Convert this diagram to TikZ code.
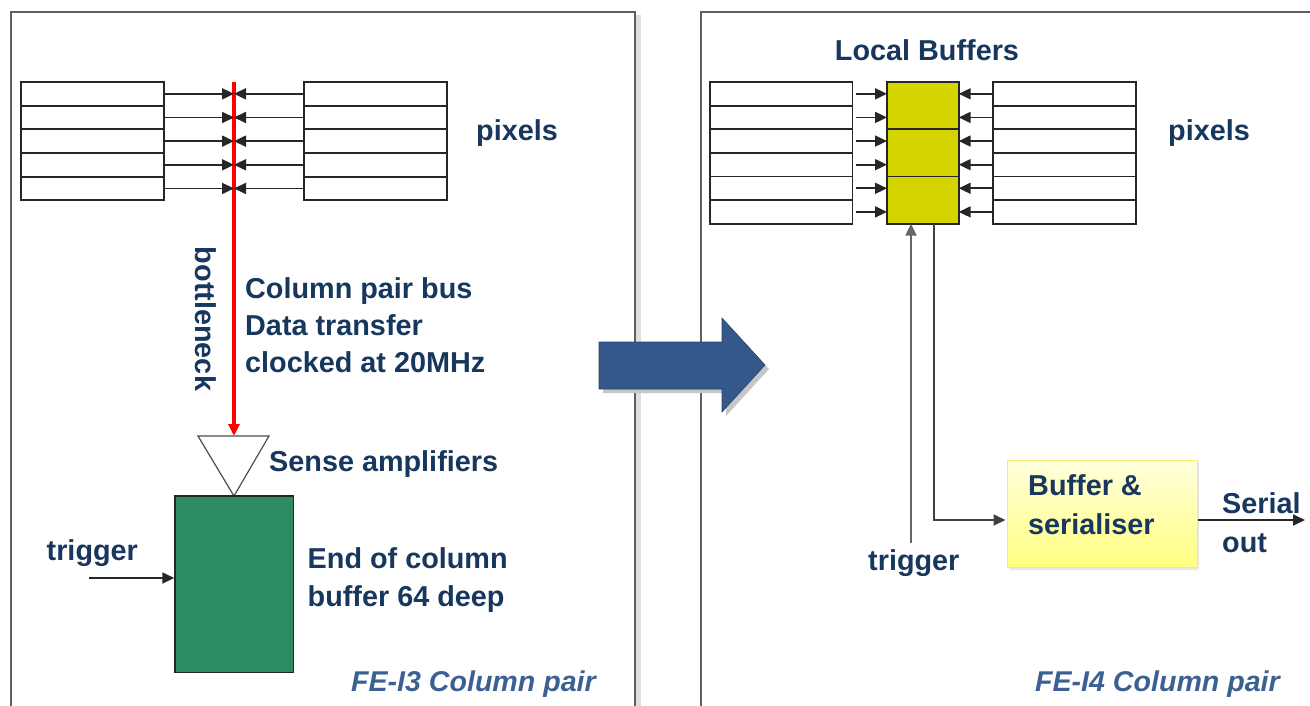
\documentclass[tikz,border=0pt]{standalone}
\usepackage{fontspec}
\setmainfont{Liberation Sans}
\usetikzlibrary{arrows.meta,shadows,calc}
\definecolor{navy}{RGB}{23,55,94}
\definecolor{labblue}{RGB}{60,96,146}
\definecolor{bigarrow}{RGB}{52,88,138}
\definecolor{eocgreen}{RGB}{46,140,98}
\definecolor{lbuf}{RGB}{212,212,0}
\definecolor{panelgray}{RGB}{95,95,95}
\begin{document}
\begin{tikzpicture}[x=1pt,y=-1pt,
  pixrow/.style={draw=black!85, line width=1.8pt, fill=white, minimum width=143pt, minimum height=23.62pt, inner sep=0pt, outer sep=0pt},
  lbufcell/.style={draw=black!85, line width=1.8pt, fill=lbuf, minimum width=71.7pt, minimum height=47.2pt, inner sep=0pt, outer sep=0pt},
  lbl/.style={text=navy, font=\bfseries\fontsize{28.8}{37}\selectfont, inner sep=0pt, anchor=base west},
  ital/.style={text=labblue, font=\bfseries\itshape\fontsize{28.6}{30}\selectfont, inner sep=0pt, anchor=base east},
  conn/.style={draw=black!85, line width=1.8pt, -{Triangle[length=12pt,width=11pt]}},
  panel/.style={draw=panelgray, line width=2pt},
]
\useasboundingbox (0,0) rectangle (1310,705);

% panels
\fill[gray!25] (636,15) rectangle (641,720);
\draw[panel] (11,720) -- (11,12) -- (635,12) -- (635,720);
\draw[panel] (701,720) -- (701,12) -- (1320,12);

% ---------------- FE-I3 ----------------
\coordinate (bustop) at (234,82);
\coordinate (amptop) at (234,436);
\foreach \i in {1,...,5} {
  \node[pixrow] (L\i) at (92.5,{82+23.66*(\i-0.5)}) {};
  \node[pixrow] (R\i) at (375.5,{82+23.66*(\i-0.5)}) {};
  \coordinate (B\i) at (234,{82+23.66*(\i-0.5)});
}
\draw[red, line width=3.2pt, -{Triangle[length=12pt,width=11pt]}] (bustop) -- (amptop);
\foreach \i in {1,...,5} {
  \draw[conn] (L\i.east) -- (B\i);
  \draw[conn] (R\i.west) -- (B\i);
}
\draw[draw=black!70, line width=1.2pt, fill=white] (198,436) -- (269,436) -- (234,496) -- cycle;
\node[draw=black!85, line width=1.5pt, fill=eocgreen, minimum width=118.5pt, minimum height=176.5pt, inner sep=0pt] (eoc) at (234.25,584.25) {};
\coordinate (trigL) at (89,578);
\draw[conn] (trigL) -- (trigL -| eoc.west);

\node[lbl] (pixA) at (476,140) {pixels};
\node[lbl, rotate=-90, anchor=center] (bneck) at (206,319) {bottleneck};
\node[lbl] (bus1) at (245,298) {Column pair bus};
\node[lbl] (bus2) at (245,335) {Data transfer};
\node[lbl] (bus3) at (245,372) {clocked at 20MHz};
\node[lbl] (sense) at (269,471.5) {Sense amplifiers};
\node[lbl] (eoc1) at (307.5,568) {End of column};
\node[lbl] (eoc2) at (307.5,606.5) {buffer 64 deep};
\node[lbl] (trigA) at (46.5,560.5) {trigger};
\node[ital] (fe3) at (596,691) {FE-I3 Column pair};

% big arrow
\fill[gray!45] (603,346) -- (726,346) -- (726,322) -- (769,369) -- (726,416) -- (726,393) -- (603,393) -- cycle;
\draw[fill=bigarrow, draw=bigarrow!80!black, line width=0.6pt] (599,342) -- (722,342) -- (722,318) -- (765,365) -- (722,412) -- (722,389) -- (599,389) -- cycle;

% ---------------- FE-I4 ----------------
\foreach \i in {1,...,6} {
  \node[pixrow, minimum width=142.5pt] (PL\i) at (781.25,{82+23.62*(\i-0.5)}) {};
  \node[pixrow] (PR\i) at (1064.5,{82+23.62*(\i-0.5)}) {};
}
\foreach \j in {1,2,3} {
  \node[lbufcell] (buf\j) at (922.85,{82+47.2*(\j-0.5)}) {};
}
\foreach \i in {1,...,6} {
  \coordinate (QL\i) at (887,{82+23.62*(\i-0.5)});
  \coordinate (QR\i) at (958.7,{82+23.62*(\i-0.5)});
  \draw[conn] ($(PL\i.east)+(3,0)$) -- (QL\i);
  \draw[conn] (PR\i.west) -- (QR\i);
}
\node[lbl, anchor=base] (lbtitle) at (927,60) {Local Buffers};
\node[lbl] (pixB) at (1168,140) {pixels};

\node[draw={rgb,255:red,240;green,240;blue,110}, line width=1pt,
      top color={rgb,255:red,255;green,255;blue,222}, bottom color={rgb,255:red,255;green,255;blue,128},
      minimum width=190pt, minimum height=107pt, inner sep=0pt,
      drop shadow={shadow xshift=2pt, shadow yshift=-3pt, fill=gray!35}] (ser) at (1102,513.5) {};

\coordinate (trigR) at (911,543);
\draw[draw=black!60, line width=1.8pt, -{Triangle[length=12pt,width=11pt]}] (trigR) -- (trigR |- buf3.south);
\coordinate (serin) at ($(ser.west)+(-1,6.5)$);
\draw[conn, draw=black!75] ($(buf3.south)+(11,0)$) |- (serin);
\coordinate (serout) at (1305,520);
\draw[conn] ($(ser.east)+(0,6.5)$) -- (serout);

\node[lbl] (trigB) at (868,570.5) {trigger};
\node[lbl] (ser1) at (1028,495) {Buffer \&};
\node[lbl] (ser2) at (1028,534) {serialiser};
\node[lbl] (so1) at (1222,513) {Serial};
\node[lbl] (so2) at (1222,552.5) {out};
\node[ital] (fe4) at (1280,691) {FE-I4 Column pair};
\end{tikzpicture}
\end{document}
